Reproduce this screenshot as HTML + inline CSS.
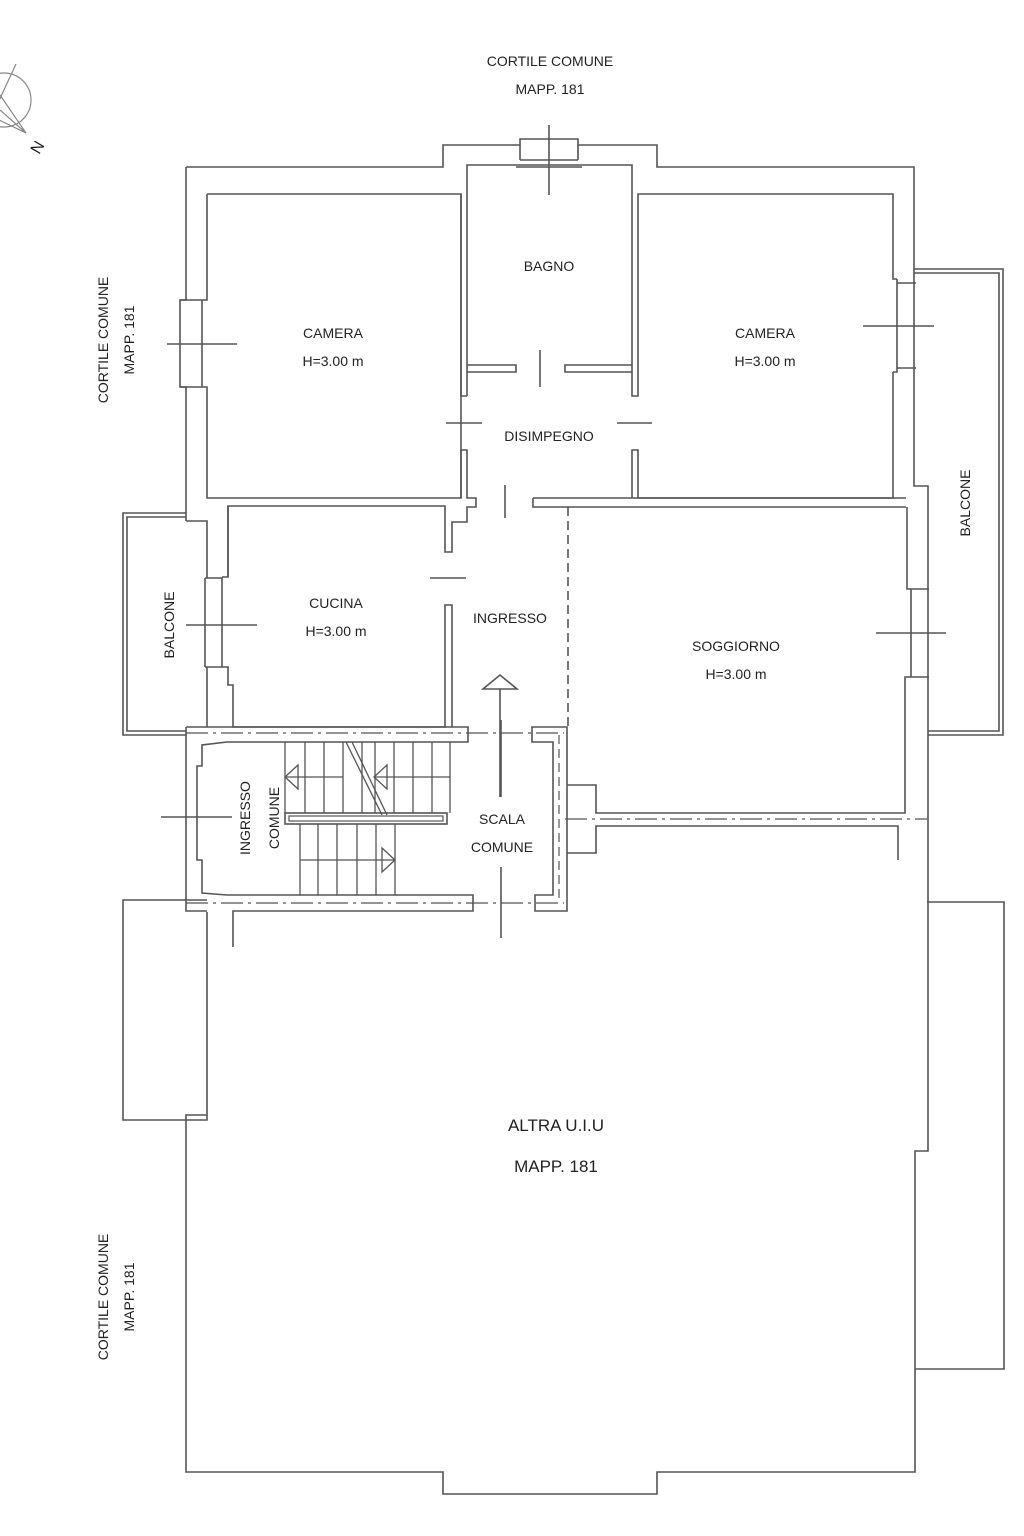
<!DOCTYPE html>
<html><head><meta charset="utf-8"><style>
html,body{margin:0;padding:0;background:#fff;}
svg{display:block;}
text{font-family:"Liberation Sans",Arial,sans-serif;fill:#222;}
</style></head><body>
<svg width="1024" height="1536" viewBox="0 0 1024 1536" xmlns="http://www.w3.org/2000/svg">
<g fill="none" stroke="#555" stroke-width="1.6">
<!-- compass -->
<circle cx="4" cy="100" r="27" stroke="#888" stroke-width="1.2"/>
<path d="M16 64 L-10 120 M0 95 L26 133 M0 110 L26 133 M-5 118 L26 133" stroke="#888" stroke-width="1.2"/>
<!-- outer -->
<path d="M186 167 L443 167 L443 145 L520 145 L520 139 L578 139 L578 145 L657 145 L657 167 L914 167 L914 486 L928 486 L928 1151 L915 1151 L915 1472 L657 1472 L657 1494 L443 1494 L443 1472 L186 1472 L186 1115 L207 1115 L207 912"/>
<path d="M520 160 L578 160 M516 167 L582 167 M520 145 L520 160 M578 145 L578 160"/>
<path d="M549 125 L549 195"/>
<!-- left outer wall upper -->
<path d="M186 167 L186 300 L180 300 L180 387 L186 387 L186 521"/>
<path d="M202 300 L202 387 M180 300 L202 300 M180 387 L202 387"/>
<path d="M167 344 L237 344"/>
<!-- left camera -->
<path d="M207 194 L461 194 L461 498 L207 498 L207 387 L202 387 M207 194 L207 300 L202 300"/>
<!-- bagno -->
<path d="M467 396 L467 165 L632 165 L632 396 L638 396 L638 194 L893 194 L893 279 L897 279 M893 372 L893 498 L638 498 L638 450 L632 450 L632 498"/>
<path d="M461 396 L467 396 M461 396 L461 194"/>
<path d="M467 365 L516 365 L516 372 L467 372 M632 365 L565 365 L565 372 L632 372"/>
<path d="M540 350 L540 387"/>
<path d="M897 279 L897 372 L893 372 M897 283 L916 283 M897 368 L916 368"/>
<path d="M863 326 L934 326"/>
<path d="M446 423 L482 423 M617 423 L652 423"/>
<path d="M461 450 L467 450 L467 498 L476 498 L476 507 L467 507 L467 522 L452 522 L452 552 L445 552 L445 506 L228 506 L228 577 L222 577"/>
<path d="M461 450 L461 498"/>
<path d="M505 485 L505 518"/>
<path d="M533 498 L906 498 M533 498 L533 507 L906 507"/>
<!-- balcone right -->
<path d="M914 269 L1003 269 L1003 735 L928 735 M914 273 L999 273 L999 731 L928 731"/>
<!-- soggiorno -->
<path d="M568 507 L568 727" stroke-dasharray="9 5"/>
<path d="M907 507 L907 589 L911 589 M911 677 L905 677 L905 813 L596 813 L596 785 L567 785"/>
<path d="M911 589 L911 677 M911 589 L929 589 M911 677 L929 677"/>
<path d="M876 633 L946 633"/>
<path d="M567 853 L596 853 L596 826 L898 826 L898 860"/>
<path d="M565 819 L927 819" stroke-dasharray="22 5 3 5" stroke-width="1.2"/>
<!-- cucina -->
<path d="M186 521 L207 521 L207 578 M207 667 L207 727"/>
<path d="M205 578 L222 578 L222 667 L205 667 M205 578 L205 667"/>
<path d="M228 506 L228 577 M222 667 L228 667 L228 685 L233 685 L233 727 L445 727 L445 605 L452 605 L452 727"/>
<path d="M186 625 L257 625"/>
<path d="M430 578 L466 578"/>
<!-- balcone left -->
<path d="M186 513 L123 513 L123 735 L186 735 M186 517 L127 517 L127 731 L186 731"/>
<!-- ingresso arrow -->
<path d="M500 689 L500 797 M483 689 L517 689 L500 675 Z"/>
<!-- stair zone -->
<path d="M186 727 L468 727 L468 742 L227 742 L202 745 L202 766 L197 766 L197 860 L202 860 L202 893 L227 895 L473 895 L473 911 L233 911 L233 947 M186 727 L186 911 L207 911"/>
<path d="M186 733 L564 733 M186 903 L564 903" stroke-dasharray="22 5 3 5" stroke-width="1.2"/>
<path d="M532 727 L567 727 L567 911 L535 911 L535 895 L553 895 L553 742 L532 742 Z"/>
<path d="M559 735 L559 900" stroke-dasharray="9 5" stroke-width="1.2"/>
<path d="M161 817 L232 817"/>
<path d="M501 720 L501 797 M501 867 L501 938"/>
<path d="M285 742 L285 813 M305 742 L305 813 M324 742 L324 813 M343 742 L343 813 M362 742 L362 813 M375 742 L375 813 M394 742 L394 813 M413 742 L413 813 M432 742 L432 813 M450 742 L450 813" stroke-width="1.3"/>
<path d="M285 777 L343 777 M374 777 L450 777" stroke-width="1.3"/>
<path d="M285 777 L298 765 L298 789 Z M374 777 L387 765 L387 789 Z" stroke-width="1.3"/>
<path d="M346 742 L382 815 M352 742 L387 815" stroke-width="1.3"/>
<rect x="285" y="813" width="162" height="11"/>
<rect x="289" y="816" width="154" height="5" stroke-width="1.2"/>
<path d="M300 824 L300 895 M318 824 L318 895 M337 824 L337 895 M357 824 L357 895 M376 824 L376 895 M395 824 L395 895" stroke-width="1.3"/>
<path d="M300 860 L395 860 M395 860 L382 848 L382 872 Z" stroke-width="1.3"/>
<!-- bottom left balcone -->
<path d="M207 900 L123 900 L123 1120 L207 1120 L207 1115"/>
<!-- bottom right balcone -->
<path d="M927 902 L1004 902 L1004 1369 L915 1369"/>
</g>
<g font-size="14">
<text x="550" y="66" text-anchor="middle">CORTILE COMUNE</text>
<text x="550" y="94" text-anchor="middle">MAPP. 181</text>
<text transform="translate(108,340) rotate(-90)" text-anchor="middle">CORTILE COMUNE</text>
<text transform="translate(134,340) rotate(-90)" text-anchor="middle">MAPP. 181</text>
<text transform="translate(108,1297) rotate(-90)" text-anchor="middle">CORTILE COMUNE</text>
<text transform="translate(134,1297) rotate(-90)" text-anchor="middle">MAPP. 181</text>
<text x="549" y="271" text-anchor="middle">BAGNO</text>
<text x="333" y="338" text-anchor="middle">CAMERA</text>
<text x="333" y="366" text-anchor="middle">H=3.00 m</text>
<text x="765" y="338" text-anchor="middle">CAMERA</text>
<text x="765" y="366" text-anchor="middle">H=3.00 m</text>
<text x="549" y="441" text-anchor="middle">DISIMPEGNO</text>
<text x="336" y="608" text-anchor="middle">CUCINA</text>
<text x="336" y="636" text-anchor="middle">H=3.00 m</text>
<text x="510" y="623" text-anchor="middle">INGRESSO</text>
<text x="736" y="651" text-anchor="middle">SOGGIORNO</text>
<text x="736" y="679" text-anchor="middle">H=3.00 m</text>
<text transform="translate(174,625) rotate(-90)" text-anchor="middle">BALCONE</text>
<text transform="translate(970,503) rotate(-90)" text-anchor="middle">BALCONE</text>
<text transform="translate(250,818) rotate(-90)" text-anchor="middle">INGRESSO</text>
<text transform="translate(279,818) rotate(-90)" text-anchor="middle">COMUNE</text>
<text x="502" y="824" text-anchor="middle">SCALA</text>
<text x="502" y="852" text-anchor="middle">COMUNE</text>
<text x="556" y="1131" text-anchor="middle" font-size="17">ALTRA U.I.U</text>
<text x="556" y="1172" text-anchor="middle" font-size="17">MAPP. 181</text>
<text transform="translate(42,150) rotate(-60)" text-anchor="middle" font-size="16">N</text>
</g>
</svg>
</body></html>
